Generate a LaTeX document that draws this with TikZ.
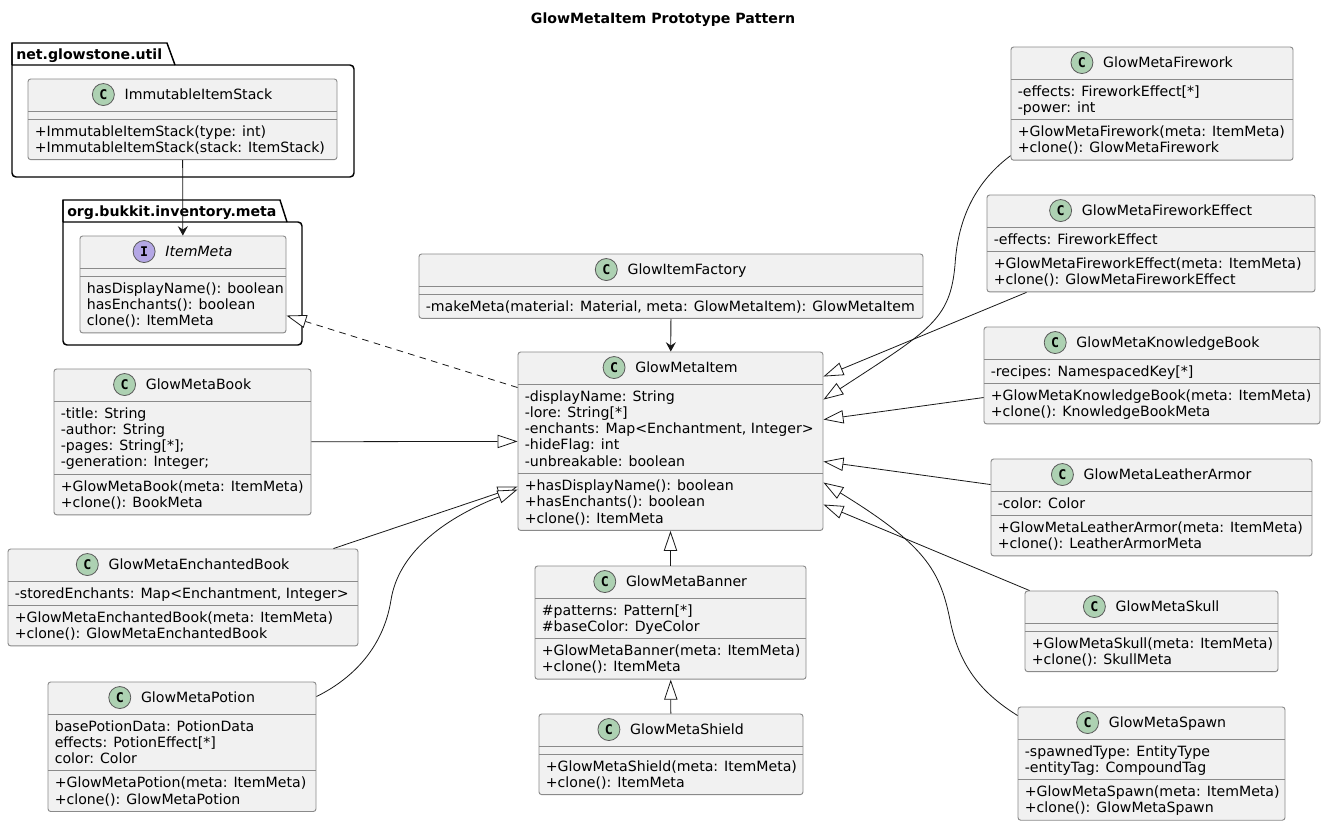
\documentclass[tikz,border=0pt]{standalone}
\usepackage{fontspec}
\setmainfont{DejaVu Sans}
\newfontfamily\iconfont{DejaVu Sans Mono}
\usepackage{tikz}
\usetikzlibrary{calc,arrows.meta,fit}
\definecolor{boxbg}{HTML}{F1F1F1}
\definecolor{boxline}{HTML}{8A8A8A}
\definecolor{edge}{HTML}{181818}
\definecolor{cgreen}{HTML}{ADD1B2}
\definecolor{ipurple}{HTML}{B4A7E5}
\tikzset{
  cbox/.style={draw=boxline, fill=boxbg, line width=0.7pt, rounded corners=2pt, inner sep=0pt},
  csep/.style={draw=boxline, line width=0.7pt},
  ctitle/.style={anchor=base, inner sep=0pt, font=\fontsize{10.6}{12}\selectfont},
  member/.style={anchor=base west, inner sep=0pt, font=\fontsize{10.6}{12}\selectfont},
  cicon/.style={circle, draw=black!65, fill=cgreen, line width=0.6pt, minimum size=16.5pt, inner sep=0pt,
    font=\iconfont\bfseries\fontsize{10}{10}\selectfont, node contents={C}},
  iicon/.style={cicon, fill=ipurple, node contents={I}},
  pkg/.style={draw=black, line width=1.1pt},
  pkgtxt/.style={anchor=base west, inner sep=0pt, font=\bfseries\fontsize{10.6}{12}\selectfont},
  ext/.style={draw=edge, line width=0.6pt, -{Triangle[open, length=15pt, width=10pt, fill=white]}},
  real/.style={ext, dash pattern=on 5pt off 4pt},
  dep/.style={draw=edge, line width=0.6pt, -{Stealth[length=7pt, width=7.5pt, inset=2.5pt]}},
}
% class box: name, left, right, top, #attributes, #methods, icon, title
\newcommand{\umlclass}[8]{%
  \node[cbox, fit={(#2,#4) (#3,{#4+48+(#5+#6)*16.3})}] (#1) {};
  \draw[csep] (#2,{#4+32}) -- (#3,{#4+32});
  \draw[csep] (#2,{#4+40+#5*16.3}) -- (#3,{#4+40+#5*16.3});
  \node[ctitle] (#1-t) at ($(#1.north)+(16,21)$) {#8};
  \node at ($(#1-t.west |- #1.north)+(-21,16)$) [#7];
}
\newcommand{\members}[3]{%
  \foreach \mline [count=\mi] in {#3}
    \node[member] at ($(#1.north west)+(7,{#2+(\mi-1)*16.3})$) {\mline};
}
\newcommand{\attrs}[2]{\members{#1}{49.5}{#2}}
\newcommand{\meths}[3]{\members{#1}{57.5+#2*16.3}{#3}}

\begin{document}
\begin{tikzpicture}[x=0.75pt, y=-0.75pt]
\useasboundingbox[fill=white] (0,0) rectangle (1326,825);
\node[font=\bfseries\fontsize{10.6}{12}\selectfont, anchor=base] (title) at (663,23) {GlowMetaItem Prototype Pattern};

% packages
\draw[pkg] (12,65) -- (12,43) -- (167,43) -- (175,65);
\draw[pkg] (12,43) [rounded corners=3] |- (354,177) |- (12,65);
\node[pkgtxt] (utilpkg) at (16,59) {net.glowstone.util};
\draw[pkg] (63,222) -- (63,200) -- (280,200) -- (287,222);
\draw[pkg] (63,200) [rounded corners=3] |- (302,345) |- (63,222);
\node[pkgtxt] (metapkg) at (67,216) {org.bukkit.inventory.meta};

\umlclass{stack}{28}{337}{79}{0}{2}{cicon}{ImmutableItemStack}
\meths{stack}{0}{+ImmutableItemStack(type: int), +ImmutableItemStack(stack: ItemStack)}

\umlclass{meta}{80}{286}{236}{0}{3}{iicon}{\textit{ItemMeta}}
\meths{meta}{0}{hasDisplayName(): boolean, hasEnchants(): boolean, clone(): ItemMeta}

\umlclass{factory}{419}{923}{254}{0}{1}{cicon}{GlowItemFactory}
\meths{factory}{0}{{-makeMeta(material: Material, meta: GlowMetaItem): GlowMetaItem}}

\umlclass{item}{518}{823}{352}{5}{3}{cicon}{GlowMetaItem}
\attrs{item}{-displayName: String, -lore: String[*], {-enchants: Map<Enchantment, Integer>}, -hideFlag: int, -unbreakable: boolean}
\meths{item}{5}{+hasDisplayName(): boolean, +hasEnchants(): boolean, +clone(): ItemMeta}

\umlclass{book}{54}{311}{369}{4}{2}{cicon}{GlowMetaBook}
\attrs{book}{-title: String, -author: String, {-pages: String[*];}, {-generation: Integer;}}
\meths{book}{4}{+GlowMetaBook(meta: ItemMeta), +clone(): BookMeta}

\umlclass{ench}{8}{358}{549}{1}{2}{cicon}{GlowMetaEnchantedBook}
\attrs{ench}{{-storedEnchants: Map<Enchantment, Integer>}}
\meths{ench}{1}{+GlowMetaEnchantedBook(meta: ItemMeta), +clone(): GlowMetaEnchantedBook}

\umlclass{potion}{48}{316}{682}{3}{2}{cicon}{GlowMetaPotion}
\attrs{potion}{basePotionData: PotionData, effects: PotionEffect[*], color: Color}
\meths{potion}{3}{+GlowMetaPotion(meta: ItemMeta), +clone(): GlowMetaPotion}

\umlclass{banner}{535}{806}{566}{2}{2}{cicon}{GlowMetaBanner}
\attrs{banner}{\#patterns: Pattern[*], \#baseColor: DyeColor}
\meths{banner}{2}{+GlowMetaBanner(meta: ItemMeta), +clone(): ItemMeta}

\umlclass{shield}{539}{803}{714}{0}{2}{cicon}{GlowMetaShield}
\meths{shield}{0}{+GlowMetaShield(meta: ItemMeta), +clone(): ItemMeta}

\umlclass{firework}{1011}{1293}{47}{2}{2}{cicon}{GlowMetaFirework}
\attrs{firework}{-effects: FireworkEffect[*], -power: int}
\meths{firework}{2}{+GlowMetaFirework(meta: ItemMeta), +clone(): GlowMetaFirework}

\umlclass{fweffect}{987}{1315}{195}{1}{2}{cicon}{GlowMetaFireworkEffect}
\attrs{fweffect}{-effects: FireworkEffect}
\meths{fweffect}{1}{+GlowMetaFireworkEffect(meta: ItemMeta), +clone(): GlowMetaFireworkEffect}

\umlclass{kbook}{984}{1320}{327}{1}{2}{cicon}{GlowMetaKnowledgeBook}
\attrs{kbook}{-recipes: NamespacedKey[*]}
\meths{kbook}{1}{+GlowMetaKnowledgeBook(meta: ItemMeta), +clone(): KnowledgeBookMeta}

\umlclass{leather}{991}{1312}{459}{1}{2}{cicon}{GlowMetaLeatherArmor}
\attrs{leather}{-color: Color}
\meths{leather}{1}{+GlowMetaLeatherArmor(meta: ItemMeta), +clone(): LeatherArmorMeta}

\umlclass{skull}{1025}{1278}{591}{0}{2}{cicon}{GlowMetaSkull}
\meths{skull}{0}{+GlowMetaSkull(meta: ItemMeta), +clone(): SkullMeta}

\umlclass{spawn}{1018}{1285}{707}{2}{2}{cicon}{GlowMetaSpawn}
\attrs{spawn}{-spawnedType: EntityType, -entityTag: CompoundTag}
\meths{spawn}{2}{+GlowMetaSpawn(meta: ItemMeta), +clone(): GlowMetaSpawn}

% relations
\draw[dep] (stack) -- (meta);
\draw[dep] (factory) -- (item);
\draw[real] ($(item.north west)+(0,36)$) -- ($(meta.north east)+(0,80)$);
\draw[ext] (book) -- (item);
\draw[ext] ($(ench.north east)+(-25,0)$) -- ($(item.north west)+(0,135)$);
\draw[ext] ($(potion.north east)+(0,15)$) .. controls (350,680) and (383,650) .. (391,600)
  .. controls (398,555) and (440,520) .. ($(item.north west)+(0,138)$);
\draw[ext] (banner) -- (item);
\draw[ext] (shield) -- (banner);
\draw[ext] ($(firework.south west)+(0,-5)$) .. controls (978,180) and (958,215) .. (955,265)
  .. controls (950,320) and (930,330) .. ($(item.north east)+(0,48)$);
\draw[ext] ($(fweffect.south west)+(40,0)$) -- ($(item.north east)+(0,25)$);
\draw[ext] ($(kbook.north west)+(0,71)$) -- ($(item.north east)+(0,68)$);
\draw[ext] ($(leather.north west)+(0,26)$) -- ($(item.north east)+(0,110)$);
\draw[ext] ($(spawn.north west)+(0,9)$) .. controls (985,695) and (960,670) .. (950,620)
  .. controls (940,570) and (925,545) .. ($(item.north east)+(0,131)$);
\draw[ext] ($(skull.north west)+(5,0)$) -- ($(item.north east)+(0,153)$);
\end{tikzpicture}
\end{document}
